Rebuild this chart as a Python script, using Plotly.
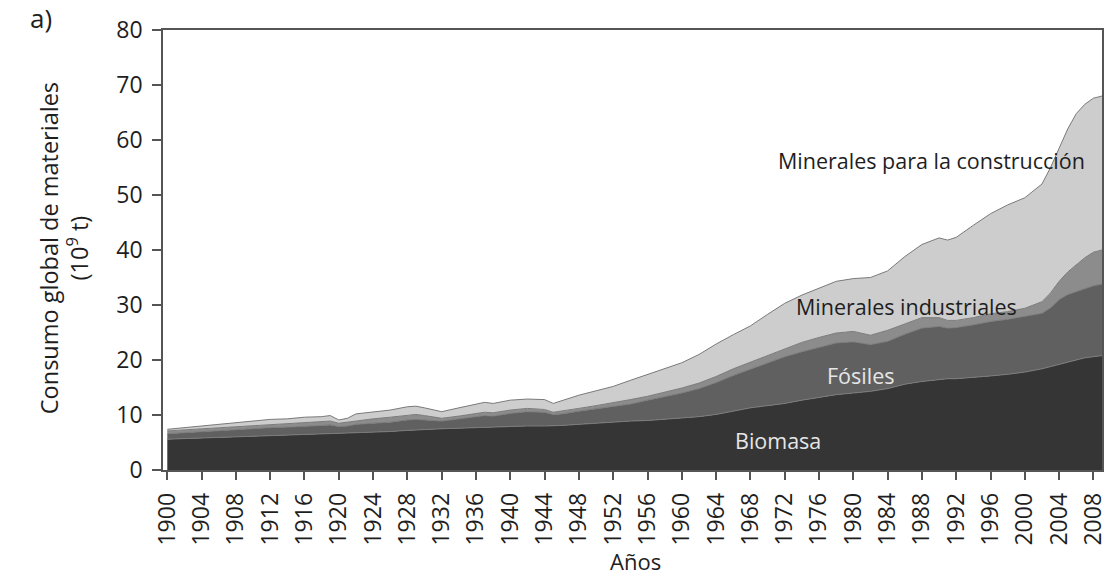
import plotly.graph_objects as go

# Global material consumption by group, 10^9 tonnes per year
years = [1900, 1902, 1904, 1906, 1908, 1910, 1912, 1914, 1916, 1918, 1919, 1920,
         1921, 1922, 1924, 1926, 1928, 1929, 1930, 1932, 1934, 1936, 1937, 1938,
         1940, 1942, 1944, 1945, 1946, 1948, 1950, 1952, 1954, 1956, 1958, 1960,
         1962, 1964, 1966, 1968, 1970, 1972, 1974, 1976, 1978, 1980, 1982, 1984,
         1986, 1988, 1990, 1991, 1992, 1994, 1996, 1998, 2000, 2002, 2003, 2004,
         2005, 2006, 2007, 2008, 2009]

biomasa = [5.6, 5.7, 5.8, 5.9, 6.0, 6.1, 6.2, 6.3, 6.5, 6.6, 6.6, 6.6,
           6.7, 6.7, 6.9, 7.0, 7.2, 7.3, 7.4, 7.5, 7.6, 7.7, 7.8, 7.8,
           7.9, 8.0, 8.0, 8.0, 8.1, 8.3, 8.5, 8.8, 8.9, 9.0, 9.2, 9.4,
           9.7, 10.1, 10.7, 11.3, 11.7, 12.1, 12.7, 13.2, 13.7, 14.0, 14.3, 14.8,
           15.6, 16.1, 16.5, 16.6, 16.6, 16.8, 17.1, 17.4, 17.8, 18.4, 18.8, 19.2,
           19.7, 20.1, 20.4, 20.6, 20.8]

fosiles = [1.0, 1.1, 1.1, 1.2, 1.3, 1.4, 1.5, 1.5, 1.4, 1.5, 1.6, 1.3,
           1.3, 1.6, 1.6, 1.7, 1.9, 1.9, 1.7, 1.4, 1.7, 2.0, 2.1, 2.0,
           2.4, 2.6, 2.5, 2.1, 2.1, 2.4, 2.6, 2.8, 3.1, 3.7, 4.1, 4.6,
           5.1, 5.8, 6.5, 7.0, 7.7, 8.5, 8.8, 9.1, 9.4, 9.3, 8.5, 8.6,
           9.1, 9.7, 9.6, 9.2, 9.3, 9.6, 9.9, 10.0, 10.1, 10.1, 10.7, 11.8,
           12.2, 12.3, 12.6, 12.9, 13.0]

minerales_industriales = [0.5, 0.5, 0.6, 0.6, 0.6, 0.6, 0.6, 0.6, 0.7, 0.7, 0.7, 0.6,
                          0.7, 0.7, 0.8, 0.9, 0.9, 0.9, 0.8, 0.5, 0.5, 0.5, 0.6, 0.6,
                          0.6, 0.6, 0.5, 0.4, 0.5, 0.5, 0.6, 0.6, 0.8, 0.7, 0.8, 0.9,
                          1.0, 1.1, 1.2, 1.3, 1.4, 1.5, 1.7, 1.8, 1.8, 1.9, 1.7, 2.0,
                          1.9, 1.9, 1.6, 1.4, 1.3, 1.3, 1.4, 1.4, 1.5, 2.1, 2.7, 3.3,
                          4.1, 4.9, 5.6, 6.1, 6.2]

minerales_construccion = [0.3, 0.4, 0.5, 0.6, 0.7, 0.8, 0.9, 0.9, 1.0, 0.9, 1.0, 0.6,
                          0.7, 1.2, 1.2, 1.3, 1.5, 1.5, 1.4, 1.2, 1.5, 1.8, 1.8, 1.7,
                          1.8, 1.7, 1.8, 1.6, 1.9, 2.4, 2.7, 3.0, 3.5, 4.0, 4.3, 4.6,
                          5.2, 5.9, 6.2, 6.6, 7.5, 8.2, 8.6, 9.0, 9.4, 9.6, 10.5, 10.8,
                          12.2, 13.3, 14.5, 14.6, 15.1, 16.8, 18.2, 19.4, 20.1, 21.4, 22.8, 24.2,
                          26.0, 27.5, 27.9, 28.0, 28.0]

tick_years = list(range(1900, 2009, 4))

FONT = "Open Sans"

layers = [
    ("Biomasa", biomasa, "#353535"),
    ("Fósiles", fosiles, "#606060"),
    ("Minerales industriales", minerales_industriales, "#8c8c8c"),
    ("Minerales para la construcción", minerales_construccion, "#cdcdcd"),
]

fig = go.Figure()
for name, vals, color in layers:
    fig.add_trace(go.Scatter(
        x=years, y=vals, name=name, mode="lines",
        stackgroup="one", fillcolor=color,
        line=dict(color="#7a7a7a", width=1),
        showlegend=False,
    ))

# In-plot layer labels
labels = [
    ("Minerales para la construcción", 1989.1, 56.3, "#1e1e1e"),
    ("Minerales industriales", 1986.2, 29.8, "#1e1e1e"),
    ("Fósiles", 1980.8, 17.2, "#e6e6e6"),
    ("Biomasa", 1971.2, 5.4, "#e6e6e6"),
]
annotations = [
    dict(text=t, x=x, y=y, xref="x", yref="y", showarrow=False,
         font=dict(family=FONT, size=21.5, color=c))
    for t, x, y, c in labels
]

annotations += [
    dict(text="Consumo global de materiales<br>(10<sup>9</sup> t)",
         x=-0.105, y=0.505, xref="paper", yref="paper", textangle=-90,
         showarrow=False, xanchor="center", yanchor="middle",
         font=dict(family=FONT, size=23.5, color="#1e1e1e")),
    dict(text="Años", x=0.503, y=-0.207, xref="paper", yref="paper",
         showarrow=False, xanchor="center", yanchor="middle",
         font=dict(family=FONT, size=22, color="#1e1e1e")),
    dict(text="a)", x=-0.13, y=1.028, xref="paper", yref="paper",
         showarrow=False, xanchor="center", yanchor="middle",
         font=dict(family=FONT, size=26, color="#1e1e1e")),
]

fig.update_layout(
    width=1110, height=576,
    margin=dict(l=163, r=2, t=30, b=106),
    paper_bgcolor="white", plot_bgcolor="white",
    annotations=annotations,
)
fig.update_xaxes(
    range=[1899.5, 2009], tickmode="array", tickvals=tick_years,
    ticktext=[str(y) for y in tick_years], tickangle=-90,
    ticks="outside", ticklen=8, tickcolor="#555", tickwidth=1.5,
    ticklabelstandoff=4, ticklabeloverflow="allow",
    showline=True, linecolor="#555", linewidth=1.5, mirror=True,
    showgrid=False, zeroline=False,
    tickfont=dict(family=FONT, size=23, color="#1e1e1e"),
)
fig.update_yaxes(
    range=[0, 80], tickmode="array", tickvals=list(range(0, 81, 10)),
    ticks="outside", ticklen=9, tickcolor="#555", tickwidth=1.5,
    ticklabelstandoff=5,
    showline=True, linecolor="#555", linewidth=1.5, mirror=True,
    showgrid=False, zeroline=False,
    tickfont=dict(family=FONT, size=23, color="#1e1e1e"),
)

fig.write_html("out.html")
